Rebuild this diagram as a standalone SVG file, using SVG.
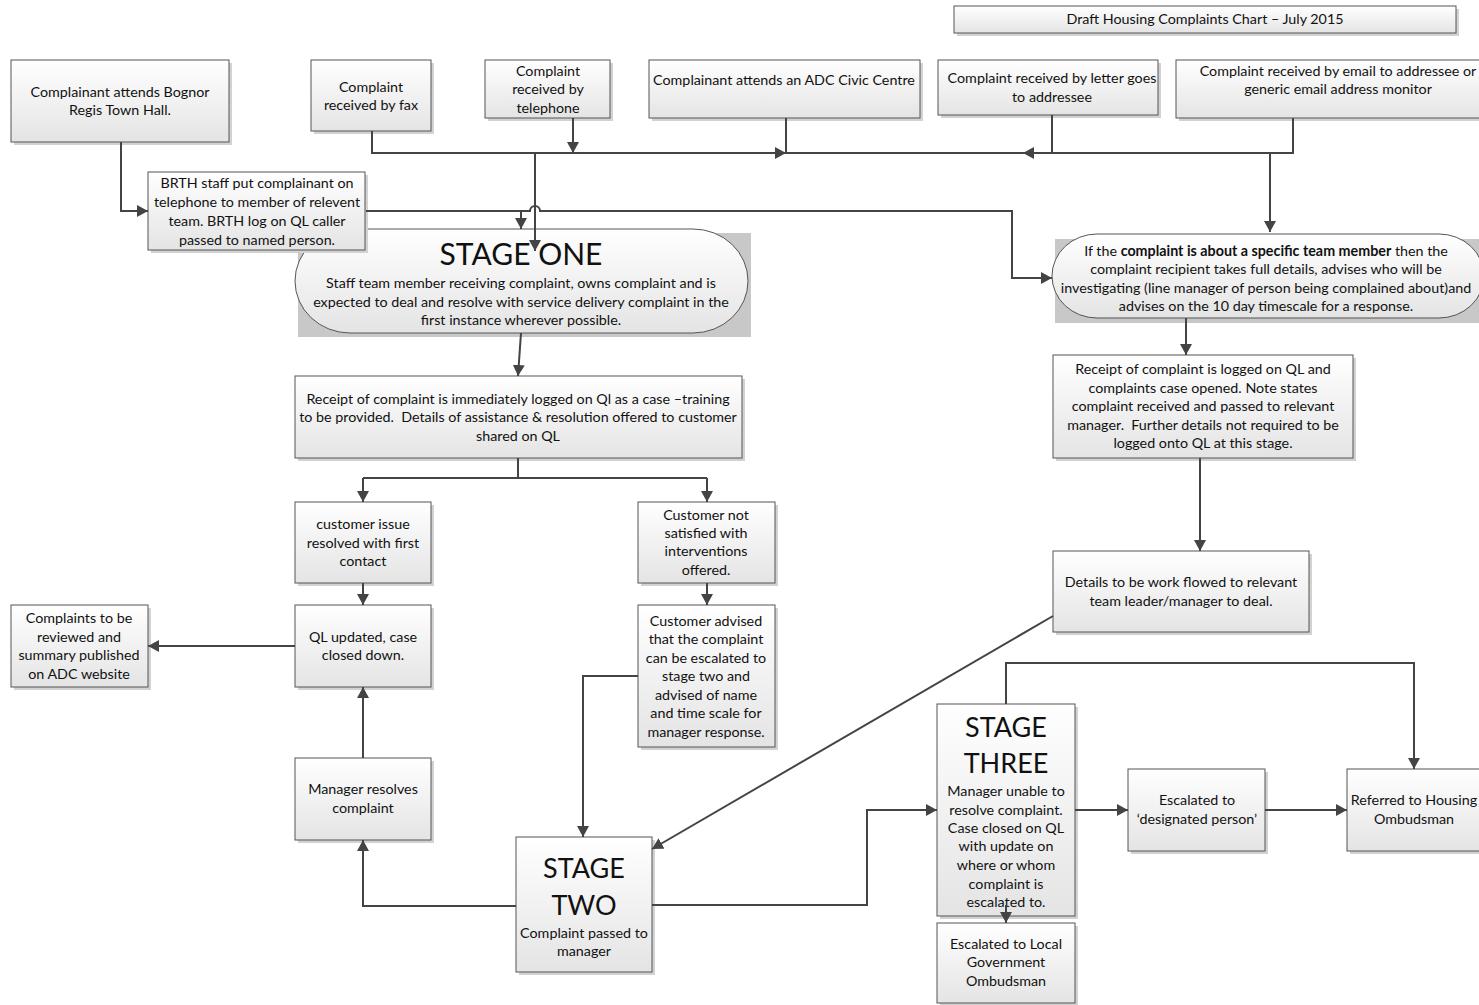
<svg xmlns="http://www.w3.org/2000/svg" width="1479" height="1005" viewBox="0 0 1479 1005">
<style>
  text { font-family: Lato, "Open Sans", "Liberation Sans", sans-serif; font-size: 14.3px; fill: #111; text-anchor: middle; }
  .big { font-size: 30px; }
  .big2 { font-size: 27px; }
  .box { fill: url(#g); stroke: #555; stroke-width: 1; }
  .sh { fill: #d2d2d2; }
  .gsh { fill: #c8c8c8; }
  .c { fill: none; stroke: #444; stroke-width: 2; }
  .a { marker-end: url(#ar); }
</style>
<defs>
  <linearGradient id="g" x1="0" y1="0" x2="0" y2="1">
    <stop offset="0" stop-color="#ffffff"/>
    <stop offset="1" stop-color="#e4e4e4"/>
  </linearGradient>
  <marker id="ar" markerUnits="userSpaceOnUse" markerWidth="12" markerHeight="12" refX="11" refY="6" orient="auto">
    <path d="M0,0 L11,6 L0,12 z" fill="#444"/>
  </marker>
</defs>
<rect width="1479" height="1005" fill="#fff"/>

<g id="title">
  <rect class="sh" x="957" y="9" width="502" height="27"/>
  <rect class="box" x="954" y="6" width="502" height="27"/>
  <text x="1205" y="24">Draft Housing Complaints Chart – July 2015</text>
</g>

<g id="bognor">
  <rect class="sh" x="14" y="63" width="218" height="82"/>
  <rect class="box" x="11" y="60" width="218" height="82"/>
  <text x="120" y="97">Complainant attends Bognor</text>
  <text x="120" y="115">Regis Town Hall.</text>
</g>

<g id="fax">
  <rect class="sh" x="314" y="63" width="120" height="71"/>
  <rect class="box" x="311" y="60" width="120" height="71"/>
  <text x="371" y="92">Complaint</text>
  <text x="371" y="110">received by fax</text>
</g>

<g id="telephone">
  <rect class="sh" x="488" y="63" width="125" height="58"/>
  <rect class="box" x="485" y="60" width="125" height="58"/>
  <text x="548" y="76">Complaint</text>
  <text x="548" y="94">received by</text>
  <text x="548" y="113">telephone</text>
</g>

<g id="civic">
  <rect class="sh" x="652" y="63" width="271" height="58"/>
  <rect class="box" x="649" y="60" width="271" height="58"/>
  <text x="784" y="85">Complainant attends an ADC Civic Centre</text>
</g>

<g id="letter">
  <rect class="sh" x="941" y="63" width="220" height="55"/>
  <rect class="box" x="938" y="60" width="220" height="55"/>
  <text x="1052" y="83">Complaint received by letter goes</text>
  <text x="1052" y="102">to addressee</text>
</g>

<g id="email">
  <rect class="sh" x="1179" y="63" width="310" height="58"/>
  <rect class="box" x="1176" y="60" width="310" height="58"/>
  <text x="1338" y="76">Complaint received by email to addressee or</text>
  <text x="1338" y="94">generic email address monitor</text>
</g>

<g id="stage-one">
  <rect class="gsh" x="298" y="233" width="453" height="104"/>
  <rect class="box" x="295" y="229" width="453" height="104" rx="55" ry="52"/>
  <text class="big" x="521" y="265">STAGE ONE</text>
  <text x="521" y="288">Staff team member receiving complaint, owns complaint and is</text>
  <text x="521" y="307">expected to deal and resolve with service delivery complaint in the</text>
  <text x="521" y="325">first instance wherever possible.</text>
</g>

<g id="brth">
  <rect class="sh" x="151" y="175" width="217" height="78"/>
  <rect class="box" x="148" y="172" width="217" height="78"/>
  <text x="257" y="188">BRTH staff put complainant on</text>
  <text x="257" y="207">telephone to member of relevent</text>
  <text x="257" y="226">team. BRTH log on QL caller</text>
  <text x="257" y="245">passed to named person.</text>
</g>

<g id="specific">
  <rect class="gsh" x="1055" y="239" width="430" height="84"/>
  <rect class="box" x="1052" y="234" width="432" height="84" rx="45" ry="42"/>
  <text x="1266" y="256">If the <tspan font-weight="bold">complaint is about a specific team member</tspan> then the</text>
  <text x="1266" y="274">complaint recipient takes full details, advises who will be</text>
  <text x="1266" y="293">investigating (line manager of person being complained about)and</text>
  <text x="1266" y="311">advises on the 10 day timescale for a response.</text>
</g>

<g id="receipt1">
  <rect class="sh" x="298" y="379" width="447" height="82"/>
  <rect class="box" x="295" y="376" width="447" height="82"/>
  <text x="518" y="404">Receipt of complaint is immediately logged on Ql as a case –training</text>
  <text x="518" y="422" xml:space="preserve">to be provided.  Details of assistance &amp; resolution offered to customer</text>
  <text x="518" y="441">shared on QL</text>
</g>

<g id="receipt2">
  <rect class="sh" x="1056" y="358" width="300" height="103"/>
  <rect class="box" x="1053" y="355" width="300" height="103"/>
  <text x="1203" y="374">Receipt of complaint is logged on QL and</text>
  <text x="1203" y="393">complaints case opened. Note states</text>
  <text x="1203" y="411">complaint received and passed to relevant</text>
  <text x="1203" y="430" xml:space="preserve">manager.  Further details not required to be</text>
  <text x="1203" y="448">logged onto QL at this stage.</text>
</g>

<g id="resolved">
  <rect class="sh" x="298" y="505" width="136" height="81"/>
  <rect class="box" x="295" y="502" width="136" height="81"/>
  <text x="363" y="529">customer issue</text>
  <text x="363" y="548">resolved with first</text>
  <text x="363" y="566">contact</text>
</g>

<g id="not-satisfied">
  <rect class="sh" x="641" y="505" width="137" height="81"/>
  <rect class="box" x="638" y="502" width="137" height="81"/>
  <text x="706" y="520">Customer not</text>
  <text x="706" y="538">satisfied with</text>
  <text x="706" y="556">interventions</text>
  <text x="706" y="575">offered.</text>
</g>

<g id="ql-closed">
  <rect class="sh" x="298" y="608" width="136" height="82"/>
  <rect class="box" x="295" y="605" width="136" height="82"/>
  <text x="363" y="642">QL updated, case</text>
  <text x="363" y="660">closed down.</text>
</g>

<g id="published">
  <rect class="sh" x="14" y="608" width="137" height="82"/>
  <rect class="box" x="11" y="605" width="137" height="82"/>
  <text x="79" y="623">Complaints to be</text>
  <text x="79" y="642">reviewed and</text>
  <text x="79" y="660">summary published</text>
  <text x="79" y="679">on ADC website</text>
</g>

<g id="advised">
  <rect class="sh" x="641" y="608" width="137" height="142"/>
  <rect class="box" x="638" y="605" width="137" height="142"/>
  <text x="706" y="626">Customer advised</text>
  <text x="706" y="644">that the complaint</text>
  <text x="706" y="663">can be escalated to</text>
  <text x="706" y="681">stage two and</text>
  <text x="706" y="700">advised of name</text>
  <text x="706" y="718">and time scale for</text>
  <text x="706" y="737">manager response.</text>
</g>

<g id="details">
  <rect class="sh" x="1056" y="554" width="256" height="81"/>
  <rect class="box" x="1053" y="551" width="256" height="81"/>
  <text x="1181" y="587">Details to be work flowed to relevant</text>
  <text x="1181" y="606">team leader/manager to deal.</text>
</g>

<g id="manager-resolves">
  <rect class="sh" x="298" y="761" width="136" height="82"/>
  <rect class="box" x="295" y="758" width="136" height="82"/>
  <text x="363" y="794">Manager resolves</text>
  <text x="363" y="813">complaint</text>
</g>

<g id="stage-two">
  <rect class="sh" x="519" y="840" width="136" height="135"/>
  <rect class="box" x="516" y="837" width="136" height="135"/>
  <text class="big2" x="584" y="878">STAGE</text>
  <text class="big2" x="584" y="915">TWO</text>
  <text x="584" y="938">Complaint passed to</text>
  <text x="584" y="956">manager</text>
</g>

<g id="stage-three">
  <rect class="sh" x="940" y="707" width="138" height="212"/>
  <rect class="box" x="937" y="704" width="138" height="212"/>
  <text class="big2" x="1006" y="737">STAGE</text>
  <text class="big2" x="1006" y="773">THREE</text>
  <text x="1006" y="796">Manager unable to</text>
  <text x="1006" y="815">resolve complaint.</text>
  <text x="1006" y="833">Case closed on QL</text>
  <text x="1006" y="851">with update on</text>
  <text x="1006" y="870">where or whom</text>
  <text x="1006" y="889">complaint is</text>
  <text x="1006" y="907">escalated to.</text>
</g>

<g id="local-ombudsman">
  <rect class="sh" x="940" y="926" width="138" height="80"/>
  <rect class="box" x="937" y="923" width="138" height="80"/>
  <text x="1006" y="949">Escalated to Local</text>
  <text x="1006" y="967">Government</text>
  <text x="1006" y="986">Ombudsman</text>
</g>

<g id="designated">
  <rect class="sh" x="1131" y="772" width="137" height="82"/>
  <rect class="box" x="1128" y="769" width="137" height="82"/>
  <text x="1197" y="805">Escalated to</text>
  <text x="1197" y="824">‘designated person’</text>
</g>

<g id="housing-ombudsman">
  <rect class="sh" x="1350" y="772" width="140" height="82"/>
  <rect class="box" x="1347" y="769" width="140" height="82"/>
  <text x="1414" y="805">Referred to Housing</text>
  <text x="1414" y="824">Ombudsman</text>
</g>

<g id="connectors">
  <path class="c a" d="M121,142 V211 H148"/>
  <path class="c a" d="M372,131 V153 H786"/>
  <path class="c a" d="M573,118 V153"/>
  <path class="c" d="M786,118 V153"/>
  <path class="c a" d="M1293,118 V153 H1023"/>
  <path class="c" d="M1023,153 H786"/>
  <path class="c" d="M1052,115 V153"/>
  <path class="c a" d="M1270,153 V232"/>
  <path class="c a" d="M535,153 V251"/>
  <path class="c a" d="M366,211 H530 A5,5 0 0 1 540,211 H1012 V278 H1052"/>
  <path class="c a" d="M521,211 V229"/>
  <path class="c a" d="M521,333 L518,376"/>
  <path class="c" d="M518,458 V478 M363,478 H707"/>
  <path class="c a" d="M363,478 V502"/>
  <path class="c a" d="M707,478 V502"/>
  <path class="c a" d="M363,583 V605"/>
  <path class="c a" d="M707,583 V605"/>
  <path class="c a" d="M295,646 H148"/>
  <path class="c a" d="M363,758 V687"/>
  <path class="c a" d="M516,906 H363 V840"/>
  <path class="c a" d="M638,676 H583 V837"/>
  <path class="c a" d="M1053,616 L652,849"/>
  <path class="c a" d="M652,905 H867 V810 H937"/>
  <path class="c a" d="M1075,810 H1128"/>
  <path class="c a" d="M1265,810 H1347"/>
  <path class="c a" d="M1006,704 V663 H1414 V769"/>
  <path class="c a" d="M1006,905 V923"/>
  <path class="c a" d="M1186,318 V355"/>
  <path class="c a" d="M1200,458 V551"/>
</g>
</svg>
